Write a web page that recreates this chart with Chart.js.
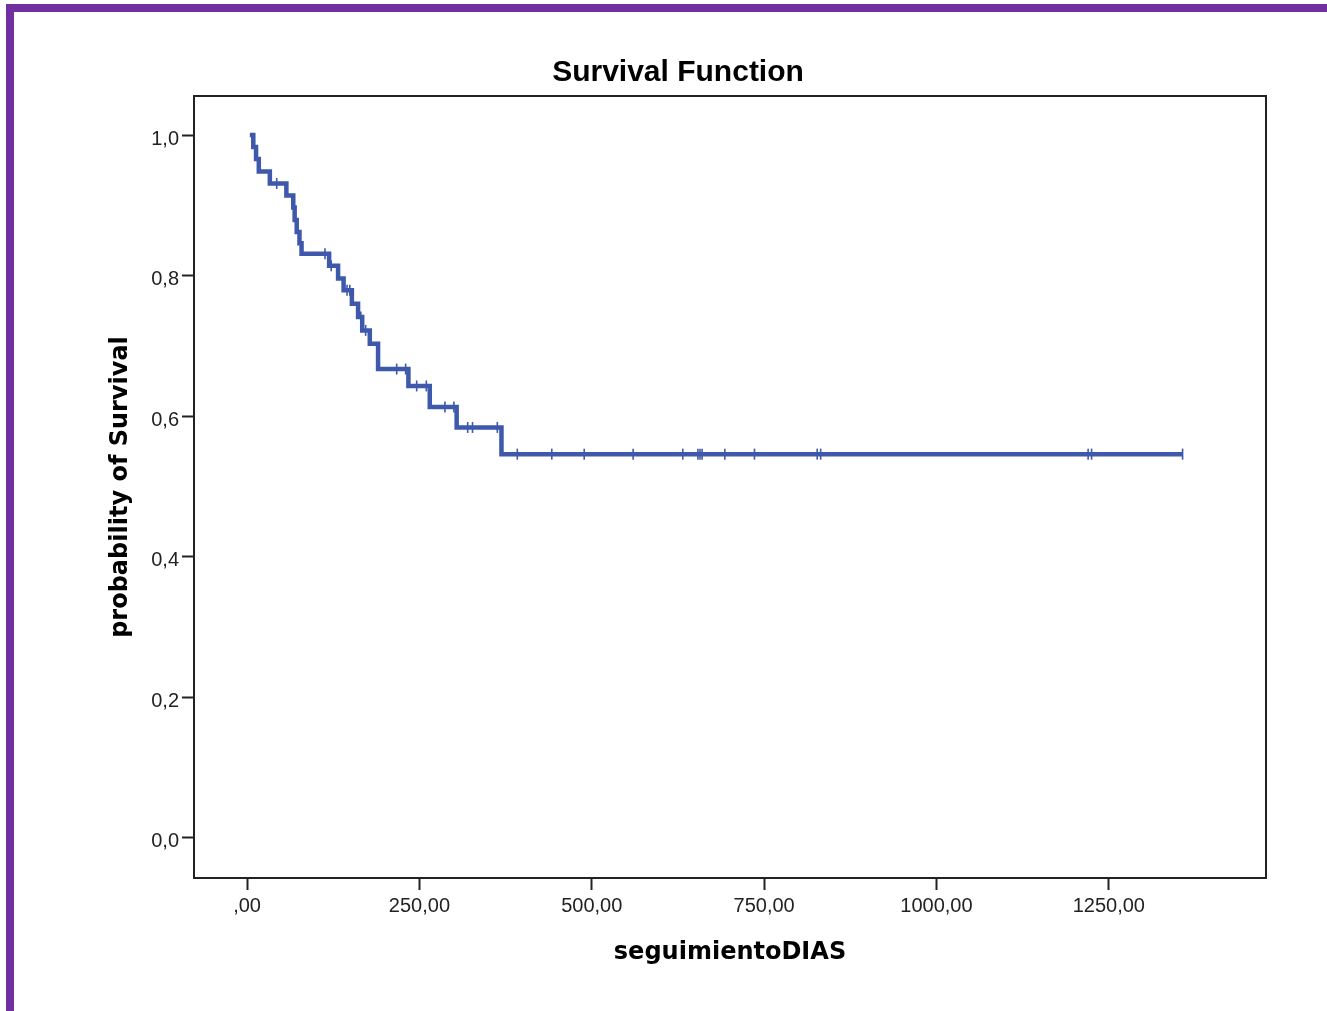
<!DOCTYPE html>
<html>
<head>
<meta charset="utf-8">
<title>Survival Function</title>
<script src="https://cdn.jsdelivr.net/npm/chart.js@4.4.1/dist/chart.umd.min.js"></script>
<style>
  html, body { margin: 0; padding: 0; background: #fff; overflow: hidden; }
  #wrap { position: absolute; left: 0; top: 0; width: 1327px; height: 1011px; }
  #frameTop { position: absolute; left: 6px; top: 4px; width: 1321px; height: 8px; background: #7030a0; }
  #frameLeft { position: absolute; left: 6px; top: 4px; width: 8px; height: 1007px; background: #7030a0; }
</style>
</head>
<body>
<div id="wrap"><canvas id="km" width="1327" height="1011"></canvas></div>
<div id="frameTop"></div>
<div id="frameLeft"></div>
<script>
"use strict";

/* ---- data ---- */
// step points of the Kaplan-Meier curve (day, cumulative survival)
var stepDays = [4, 9, 13, 17, 33, 57, 67, 69, 72, 76, 79, 119, 132, 140, 152, 161, 167, 178, 190, 234, 265, 304, 369, 1357];
var stepSurv = [1.0, 0.983, 0.966, 0.948, 0.931, 0.914, 0.897, 0.879, 0.862, 0.846, 0.831, 0.814, 0.796, 0.779, 0.760, 0.741, 0.722, 0.703, 0.667, 0.643, 0.613, 0.584, 0.546, 0.546];
// censored cases
var censorDays = [43, 113, 122, 145, 149, 165, 172, 217, 230, 246, 260, 287, 300, 320, 327, 363,
  392, 442, 489, 560, 632, 654, 657, 660, 693, 736, 827, 832, 1220, 1225, 1357];
var censorSurv = [0.931, 0.831, 0.814, 0.779, 0.779, 0.741, 0.722, 0.667, 0.667, 0.643, 0.643, 0.613, 0.613, 0.584, 0.584, 0.584,
  0.546, 0.546, 0.546, 0.546, 0.546, 0.546, 0.546, 0.546, 0.546, 0.546, 0.546, 0.546, 0.546, 0.546, 0.546];
// axis ticks
var xTicks = [0, 250, 500, 750, 1000, 1250];
var xTickLabels = [",00", "250,00", "500,00", "750,00", "1000,00", "1250,00"];
var yTicks = [0, 0.2, 0.4, 0.6, 0.8, 1.0];
var yTickLabels = ["0,0", "0,2", "0,4", "0,6", "0,8", "1,0"];

var lineBlue = "#3e58ac";
var axisColor = "#222222";

// box around the plot area
var framePlugin = {
  id: "frame",
  afterDraw: function (chart) {
    var a = chart.chartArea;
    var ctx = chart.ctx;
    ctx.save();
    ctx.strokeStyle = axisColor;
    ctx.lineWidth = 2;
    ctx.strokeRect(a.left, a.top, a.right - a.left, a.bottom - a.top);
    ctx.restore();
  }
};

function toPoints(xs, ys) {
  var pts = [];
  for (var i = 0; i < xs.length; i++) {
    pts.push({ x: xs[i], y: ys[i] });
  }
  return pts;
}

var config = {
  type: "line",
  data: {
    datasets: [
      {
        label: "Survival",
        data: toPoints(stepDays, stepSurv),
        stepped: true,
        borderColor: lineBlue,
        borderWidth: 4.5,
        pointRadius: 0,
        fill: false
      },
      {
        label: "Censored",
        data: toPoints(censorDays, censorSurv),
        showLine: false,
        pointStyle: "line",
        rotation: 90,
        pointRadius: 5.5,
        pointBorderWidth: 1.6,
        pointBorderColor: lineBlue,
        pointBackgroundColor: lineBlue
      }
    ]
  },
  options: {
    responsive: false,
    animation: false,
    layout: { padding: { left: 90, right: 61, top: 0, bottom: 0 } },
    plugins: {
      legend: { display: false },
      tooltip: { enabled: false },
      title: {
        display: true,
        text: "Survival Function",
        color: "#000",
        font: { family: "'Liberation Sans', Arial, sans-serif", size: 30, weight: "bold" },
        padding: { top: 54.5, bottom: 5.5 }
      }
    },
    scales: {
      x: {
        type: "linear",
        min: -77,
        max: 1478,
        afterBuildTicks: function (axis) {
          axis.ticks = xTicks.map(function (v) { return { value: v }; });
        },
        afterFit: function (axis) { axis.height = 133; },
        ticks: {
          color: axisColor,
          font: { family: "'Liberation Sans', Arial, sans-serif", size: 20 },
          padding: 4,
          maxRotation: 0,
          callback: function (v, i) { return xTickLabels[i]; }
        },
        grid: { drawOnChartArea: false, drawTicks: true, tickLength: 12, tickWidth: 2, tickColor: axisColor },
        border: { display: true, color: axisColor, width: 2 },
        title: {
          display: true,
          text: "seguimientoDIAS",
          color: "#000",
          font: { family: "'DejaVu Sans', Verdana, sans-serif", size: 24, weight: "bold" },
          padding: { top: 0, bottom: 43.6 }
        }
      },
      y: {
        type: "linear",
        min: -0.057,
        max: 1.0555,
        afterBuildTicks: function (axis) {
          axis.ticks = yTicks.map(function (v) { return { value: v }; });
        },
        afterFit: function (axis) { axis.width = 104; },
        ticks: {
          color: axisColor,
          font: { family: "'Liberation Sans', Arial, sans-serif", size: 20 },
          padding: 3,
          labelOffset: 4,
          callback: function (v, i) { return yTickLabels[i]; }
        },
        grid: { drawOnChartArea: false, drawTicks: true, tickLength: 12, tickWidth: 2, tickColor: axisColor },
        border: { display: true, color: axisColor, width: 2 },
        title: {
          display: true,
          text: "probability of Survival",
          color: "#000",
          font: { family: "'DejaVu Sans', Verdana, sans-serif", size: 24, weight: "bold" },
          padding: { top: 16.6, bottom: 0 }
        }
      }
    }
  },
  plugins: [framePlugin]
};

new Chart(document.getElementById("km"), config);
</script>
</body>
</html>
